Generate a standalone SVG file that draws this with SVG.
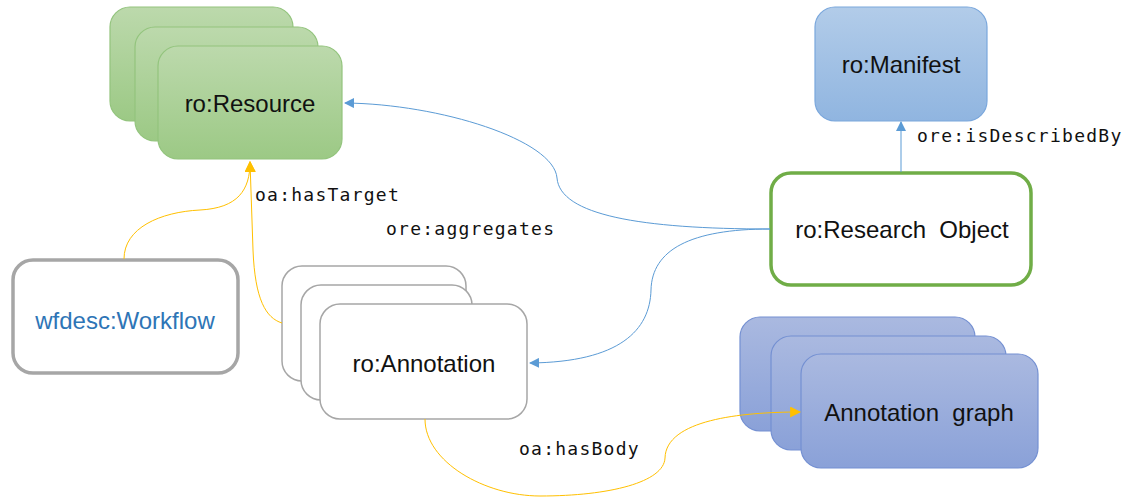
<svg xmlns="http://www.w3.org/2000/svg" width="1125" height="499" viewBox="0 0 1125 499">
  <style>
    .lbl { font-family: "Liberation Sans", Arial, sans-serif; font-size: 24px; fill: #111; text-anchor: middle; dominant-baseline: central; white-space: pre; }
    .mono { font-family: "DejaVu Sans Mono", "Liberation Mono", monospace; font-size: 18px; fill: #111; letter-spacing: 1.25px; }
    .res { fill: url(#gGreen); stroke: #93c47d; stroke-width: 1.2; }
    .man { fill: url(#gBlue); stroke: #7aa7dc; stroke-width: 1.2; }
    .ag { fill: url(#gPeri); stroke: #7490d2; stroke-width: 1.2; }
    .ann { fill: #fff; stroke: #a6a6a6; stroke-width: 1.5; }
    .blue { fill: none; stroke: #5b9bd5; stroke-width: 1; }
    .yel { fill: none; stroke: #ffc000; stroke-width: 1; }
  </style>
  <defs>
    <linearGradient id="gGreen" x1="0" y1="0" x2="0" y2="1">
      <stop offset="0" stop-color="#bcd9ac"/>
      <stop offset="1" stop-color="#9cc985"/>
    </linearGradient>
    <linearGradient id="gBlue" x1="0" y1="0" x2="0" y2="1">
      <stop offset="0" stop-color="#b2cce9"/>
      <stop offset="1" stop-color="#90b5e0"/>
    </linearGradient>
    <linearGradient id="gPeri" x1="0" y1="0" x2="0" y2="1">
      <stop offset="0" stop-color="#aab9e0"/>
      <stop offset="1" stop-color="#8aa1d8"/>
    </linearGradient>
    <marker id="aBlue" viewBox="0 0 10 10" refX="9" refY="5" markerWidth="10" markerHeight="10" markerUnits="userSpaceOnUse" orient="auto">
      <path d="M0,0 L10,5 L0,10 z" fill="#5b9bd5"/>
    </marker>
    <marker id="aYel" viewBox="0 0 10 10" refX="9" refY="5" markerWidth="11" markerHeight="11" markerUnits="userSpaceOnUse" orient="auto">
      <path d="M0,0 L10,5 L0,10 z" fill="#ffc000"/>
    </marker>
  </defs>

  <!-- ro:Resource stack -->
  <g id="resource">
    <rect class="res" x="110" y="7" width="183" height="114" rx="20"/>
    <rect class="res" x="135" y="27" width="183" height="114" rx="20"/>
    <rect class="res" x="158" y="46" width="184" height="113" rx="20"/>
    <text class="lbl" x="250" y="103">ro:Resource</text>
  </g>

  <!-- ro:Manifest -->
  <g id="manifest">
    <rect class="man" x="815" y="7" width="172" height="114" rx="20"/>
    <text class="lbl" x="901" y="64">ro:Manifest</text>
  </g>

  <!-- ro:Research Object -->
  <g id="research-object">
    <rect x="771" y="173" width="260" height="112" rx="20" fill="#fff" stroke="#70ad47" stroke-width="3.5"/>
    <text class="lbl" x="902" y="229">ro:Research  Object</text>
  </g>

  <!-- wfdesc:Workflow -->
  <g id="workflow">
    <rect x="13" y="260" width="225" height="113" rx="20" fill="#fff" stroke="#a6a6a6" stroke-width="3.5"/>
    <text class="lbl" x="125" y="320" style="fill:#2e75b6">wfdesc:Workflow</text>
  </g>

  <!-- ro:Annotation stack -->
  <g id="annotation">
    <rect class="ann" x="282" y="266" width="184" height="115" rx="20"/>
    <rect class="ann" x="301" y="285" width="171" height="115" rx="20"/>
    <rect class="ann" x="320" y="304" width="207" height="115" rx="20"/>
    <text class="lbl" x="424" y="363">ro:Annotation</text>
  </g>

  <!-- Annotation graph stack -->
  <g id="annotation-graph">
    <rect class="ag" x="740" y="317" width="235" height="114" rx="20"/>
    <rect class="ag" x="771" y="336" width="235" height="114" rx="20"/>
    <rect class="ag" x="801" y="354" width="237" height="114" rx="20"/>
    <text class="lbl" x="919" y="412">Annotation  graph</text>
  </g>

  <!-- connectors, drawn over the nodes -->
  <g id="connectors">
    <path class="blue" d="M770,229 C 640,229 560,215 557,178 C 554,140 440,104 345,103" marker-end="url(#aBlue)"/>
    <path class="blue" d="M770,229 C 690,229 652,250 651,290 C 650,330 620,362 530,363" marker-end="url(#aBlue)"/>
    <path class="blue" d="M901,172 L901,122" marker-end="url(#aBlue)"/>
    <path class="yel" d="M282,323 C 266,318 255,300 253,250 L 250,162" marker-end="url(#aYel)"/>
    <path class="yel" d="M124,259 C 124,228 160,212 200,210 C 238,208 250,190 250,162" marker-end="url(#aYel)"/>
    <path class="yel" d="M425,419 C 425,462 485,496 540,496 C 610,496 664,482 665,458 C 666,420 740,412 800,412" marker-end="url(#aYel)"/>
    <text class="mono" x="255" y="201">oa:hasTarget</text>
    <text class="mono" x="386" y="235">ore:aggregates</text>
    <text class="mono" x="917" y="142">ore:isDescribedBy</text>
    <text class="mono" x="519" y="455">oa:hasBody</text>
  </g>
</svg>
